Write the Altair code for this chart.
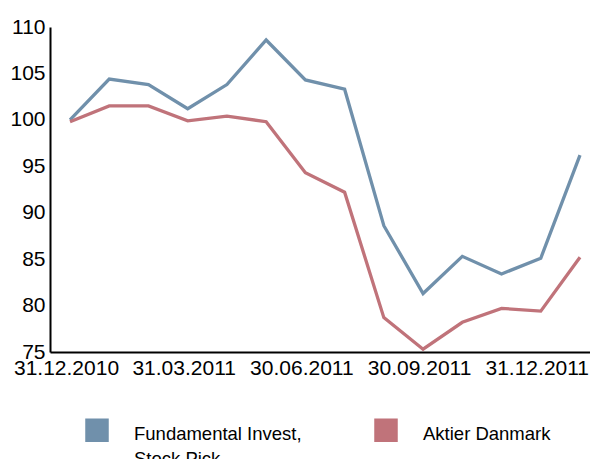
import altair as alt
import pandas as pd

series_names = ["Fundamental Invest, Stock Pick", "Aktier Danmark"]
fund = [100.0, 104.4, 103.8, 101.2, 103.8, 108.6, 104.3, 103.3, 88.6, 81.3, 85.3, 83.4, 85.1, 96.2]
aktier = [99.8, 101.5, 101.5, 99.9, 100.4, 99.8, 94.3, 92.2, 78.7, 75.3, 78.2, 79.7, 79.4, 85.2]
tick_labels = ["31.12.2010", "31.03.2011", "30.06.2011", "30.09.2011", "31.12.2011"]
tick_idx = [0, 3, 6, 9, 12]

rows = []
for i, v in enumerate(fund):
    rows.append({"idx": i, "value": v, "series": series_names[0]})
for i, v in enumerate(aktier):
    rows.append({"idx": i, "value": v, "series": series_names[1]})
df = pd.DataFrame(rows)

label_expr = ""
for p, lab in zip(tick_idx[:-1], tick_labels[:-1]):
    label_expr += f"datum.value < {p + 1} ? '{lab}' : "
label_expr += f"'{tick_labels[-1]}'"

font = "Liberation Sans"

x_enc = alt.X("idx:Q",
              scale=alt.Scale(domain=[-0.51, 13.255], nice=False, zero=False),
              axis=alt.Axis(values=tick_idx, labelExpr=label_expr, title=None, grid=False,
                            ticks=False, tickSize=0, domainColor="black", domainWidth=2,
                            labelFont=font, labelFontSize=21, labelColor="black",
                            labelPadding=5, labelOffset=-4, labelFlush=False,
                            labelOverlap=False))
y_enc = alt.Y("value:Q",
              scale=alt.Scale(domain=[75, 110], nice=False, zero=False),
              axis=alt.Axis(values=[75, 80, 85, 90, 95, 100, 105, 110], title=None, grid=False,
                            ticks=False, tickSize=0, domainColor="black", domainWidth=2,
                            labelFont=font, labelFontSize=21, labelColor="black",
                            labelPadding=5, labelFlush=False, labelOverlap=False))
legend_label_expr = (
    "datum.label == 'Fundamental Invest, Stock Pick' ? "
    "['Fundamental Invest,', 'Stock Pick'] : [datum.label, '']"
)
color_enc = alt.Color("series:N",
                      scale=alt.Scale(domain=series_names, range=["#7090ab", "#c0737a"]),
                      legend=alt.Legend(title=None, orient="none", legendX=35, legendY=395,
                                        direction="horizontal", columns=2,
                                        symbolType="M-1,-1.364H1V0.636H-1Z",
                                        symbolSize=484, symbolStrokeColor="#222222",
                                        symbolStrokeWidth=1.5, symbolOpacity=1,
                                        labelFont=font, labelFontSize=18.5, labelColor="black",
                                        labelOffset=25, columnPadding=70, labelBaseline="middle",
                                        labelLimit=300, labelExpr=legend_label_expr))

base = alt.Chart(df).encode(x=x_enc, y=y_enc, color=color_enc)
swatch = base.mark_square(size=0, filled=True)
lines = base.mark_line(strokeWidth=3.3, strokeJoin="miter")

chart = alt.layer(swatch, lines).properties(
    width=540, height=325,
    autosize=alt.AutoSizeParams(type="none"),
    padding={"left": 42, "top": 19, "right": 0, "bottom": 107},
).configure(
    style={"guide-label": {"lineHeight": 25}},
    view=alt.ViewConfig(stroke=None),
)

chart.save("out.html", embed_options={"renderer": "svg", "actions": False})
